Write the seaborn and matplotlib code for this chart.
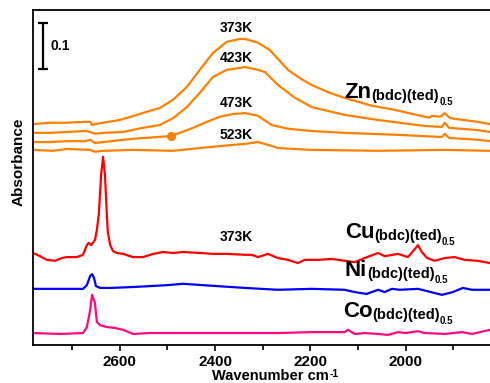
import numpy as np
import pandas as pd
import matplotlib
matplotlib.use("Agg")
import matplotlib.pyplot as plt
import seaborn as sns

# ---- spectra (wavenumber in cm^-1, stacked absorbance) ----
zn373_wn = [2782, 2746, 2711, 2673, 2662, 2658, 2652, 2635, 2600, 2564, 2543, 2516,
            2488, 2459, 2432, 2404, 2375, 2348, 2337, 2310, 2285, 2247, 2222, 2197,
            2159, 2128, 2071, 2023, 1960, 1950, 1945, 1928, 1918, 1907, 1849, 1823]
zn373_a = [0.480, 0.483, 0.483, 0.485, 0.485, 0.478, 0.480, 0.483, 0.489, 0.500, 0.507, 0.515,
           0.533, 0.561, 0.598, 0.635, 0.659, 0.665, 0.665, 0.657, 0.641, 0.598, 0.580, 0.565,
           0.548, 0.537, 0.520, 0.511, 0.496, 0.494, 0.498, 0.496, 0.504, 0.493, 0.485, 0.480]

zn423_wn = [2782, 2746, 2711, 2673, 2662, 2652, 2635, 2593, 2551, 2516, 2488, 2459,
            2432, 2404, 2375, 2348, 2337, 2310, 2295, 2268, 2232, 2197, 2128, 2058,
            1960, 1924, 1918, 1909, 1849, 1823]
zn423_a = [0.461, 0.461, 0.463, 0.465, 0.463, 0.459, 0.461, 0.463, 0.472, 0.478, 0.493, 0.517,
           0.548, 0.583, 0.598, 0.602, 0.604, 0.598, 0.593, 0.565, 0.537, 0.517, 0.500, 0.489,
           0.476, 0.474, 0.483, 0.472, 0.467, 0.463]

zn473_wn = [2782, 2746, 2711, 2673, 2662, 2652, 2635, 2572, 2495, 2474, 2446, 2417,
            2390, 2362, 2337, 2310, 2281, 2247, 2197, 2128, 2023, 1924, 1918, 1909,
            1849, 1823]
zn473_a = [0.441, 0.441, 0.443, 0.443, 0.446, 0.439, 0.441, 0.448, 0.454, 0.461, 0.472, 0.485,
           0.496, 0.502, 0.504, 0.498, 0.478, 0.470, 0.465, 0.461, 0.457, 0.452, 0.459, 0.450,
           0.446, 0.443]

zn523_wn = [2782, 2740, 2711, 2662, 2652, 2635, 2572, 2488, 2432, 2362, 2337, 2310,
            2289, 2268, 2197, 2058, 1918, 1823]
zn523_a = [0.424, 0.422, 0.426, 0.424, 0.420, 0.422, 0.424, 0.422, 0.428, 0.435, 0.437, 0.441,
           0.435, 0.428, 0.424, 0.422, 0.424, 0.422]

cu_wn = [2782, 2767, 2753, 2736, 2721, 2711, 2690, 2677, 2669, 2665, 2660, 2652,
         2648, 2644, 2639, 2635, 2631, 2627, 2625, 2620, 2614, 2606, 2593, 2572,
         2551, 2530, 2509, 2488, 2467, 2432, 2404, 2375, 2337, 2323, 2310, 2295,
         2289, 2268, 2247, 2226, 2212, 2184, 2155, 2128, 2107, 2086, 2058, 2044,
         2016, 1995, 1974, 1966, 1955, 1939, 1918, 1897, 1876, 1849, 1823]
cu_a = [0.200, 0.193, 0.185, 0.183, 0.189, 0.191, 0.191, 0.196, 0.217, 0.222, 0.217, 0.228,
        0.250, 0.283, 0.370, 0.409, 0.370, 0.283, 0.246, 0.217, 0.204, 0.200, 0.198, 0.191,
        0.191, 0.198, 0.202, 0.200, 0.202, 0.200, 0.198, 0.198, 0.196, 0.196, 0.191, 0.196,
        0.198, 0.189, 0.185, 0.178, 0.185, 0.185, 0.187, 0.183, 0.180, 0.189, 0.200, 0.193,
        0.198, 0.191, 0.217, 0.202, 0.189, 0.183, 0.189, 0.191, 0.185, 0.183, 0.178]

ni_wn = [2782, 2700, 2677, 2669, 2662, 2658, 2654, 2650, 2641, 2620, 2572, 2501,
         2467, 2396, 2337, 2268, 2197, 2128, 2107, 2082, 2058, 2044, 2029, 2012,
         1974, 1924, 1901, 1880, 1861, 1823]
ni_a = [0.122, 0.122, 0.122, 0.130, 0.150, 0.154, 0.146, 0.128, 0.124, 0.124, 0.126, 0.130,
        0.133, 0.128, 0.124, 0.120, 0.122, 0.120, 0.115, 0.111, 0.120, 0.115, 0.122, 0.120,
        0.122, 0.109, 0.115, 0.124, 0.120, 0.120]

co_wn = [2782, 2725, 2677, 2669, 2662, 2658, 2652, 2648, 2641, 2627, 2610, 2593,
         2572, 2537, 2501, 2467, 2404, 2337, 2268, 2197, 2128, 2121, 2107, 2086,
         2058, 2037, 2016, 2001, 1974, 1960, 1918, 1882, 1861, 1823]
co_a = [0.026, 0.024, 0.026, 0.039, 0.076, 0.109, 0.091, 0.050, 0.043, 0.039, 0.037, 0.033,
        0.024, 0.026, 0.026, 0.026, 0.026, 0.026, 0.026, 0.028, 0.028, 0.033, 0.024, 0.026,
        0.024, 0.022, 0.028, 0.026, 0.030, 0.026, 0.024, 0.028, 0.024, 0.033]

series_names = ["Zn 373K", "Zn 423K", "Zn 473K", "Zn 523K", "Cu", "Ni", "Co"]
series_wn = [zn373_wn, zn423_wn, zn473_wn, zn523_wn, cu_wn, ni_wn, co_wn]
series_a = [zn373_a, zn423_a, zn473_a, zn523_a, cu_a, ni_a, co_a]
series_colors = ["#ff8000", "#ff8000", "#ff8000", "#ff8000", "#ff0000", "#0000ff", "#ff0a7e"]

temp_labels = ["373K", "423K", "473K", "523K", "373K"]
temp_label_y = [0.689, 0.624, 0.526, 0.457, 0.235]
temp_label_wn = [2356, 2356, 2356, 2356, 2356]

metal_names = ["Zn", "Cu", "Ni", "Co"]
metal_label_wn = [2128, 2128, 2128, 2132]
metal_label_y = [0.537, 0.233, 0.150, 0.061]

marker_wn, marker_a = 2493, 0.454
scale_wn, scale_lo, scale_hi = 2761, 0.600, 0.700

major_ticks = [2600, 2400, 2200, 2000]
minor_ticks = [2700, 2500, 2300, 2100, 1900]

frames = []
for name, wn, a in zip(series_names, series_wn, series_a):
    frames.append(pd.DataFrame({"wn": wn, "A": a, "series": name}))
df = pd.concat(frames, ignore_index=True)

sns.set_theme(style="ticks")
plt.rcParams["font.family"] = ["Liberation Sans", "DejaVu Sans"]
plt.rcParams["font.weight"] = "bold"
plt.rcParams["text.color"] = "black"
plt.rcParams["axes.labelcolor"] = "black"
plt.rcParams["xtick.color"] = "black"
plt.rcParams["ytick.color"] = "black"
plt.rcParams["axes.edgecolor"] = "black"

fig = plt.figure(figsize=(4.9, 3.83), dpi=100)
ax = fig.add_axes([33 / 490, 1 - 345 / 383, 1 - 33 / 490, (345 - 10) / 383])

sns.lineplot(data=df, x="wn", y="A", hue="series", hue_order=series_names,
             palette=dict(zip(series_names, series_colors)), estimator=None,
             sort=True, legend=False, linewidth=1.6, ax=ax)

ax.plot([marker_wn], [marker_a], "o", color="#ff8000", ms=5.5)

# 0.1 absorbance scale bar
ax.errorbar([scale_wn], [(scale_lo + scale_hi) / 2], yerr=[(scale_hi - scale_lo) / 2],
            color="black", capsize=3.5, elinewidth=1.6, capthick=1.6, fmt="none")
ax.text(2746, 0.649, "0.1", fontsize=10, fontweight="bold", ha="left", va="center")

for lab, wn, y in zip(temp_labels, temp_label_wn, temp_label_y):
    ax.text(wn, y, lab, fontsize=10, fontweight="bold", ha="center", va="center")

for name, wn, y in zip(metal_names, metal_label_wn, metal_label_y):
    t1 = ax.text(wn, y, name, fontsize=16, fontweight="bold", ha="left", va="baseline")
    t2 = ax.annotate("(bdc)(ted)", xy=(1, 0), xycoords=t1, xytext=(0, 0),
                     textcoords="offset points", fontsize=10.5, fontweight="bold",
                     ha="left", va="bottom")
    ax.annotate("0.5", xy=(1, 0), xycoords=t2, xytext=(0, -3),
                textcoords="offset points", fontsize=7, fontweight="bold",
                ha="left", va="bottom")

ax.set_xlim(2782, 1823)
ax.set_ylim(0, 0.728)
ax.set_xticks(major_ticks)
ax.set_xticks(minor_ticks, minor=True)
ax.set_yticks([])
ax.tick_params(axis="x", which="major", direction="out", length=4.5, width=1.2,
               labelsize=11, pad=3, colors="black")
ax.tick_params(axis="x", which="minor", direction="out", length=3.5, width=1.2,
               colors="black")
for lbl in ax.get_xticklabels():
    lbl.set_fontweight("bold")
ax.set_xlabel("")
ax.set_ylabel("")
for side in ["left", "top", "bottom"]:
    ax.spines[side].set_linewidth(1.3)
    ax.spines[side].set_color("black")
ax.spines["right"].set_visible(False)

fig.text(19 / 490, 1 - 162 / 383, "Absorbance", rotation=90, fontsize=11,
         fontweight="bold", ha="center", va="center")
xl = fig.text(270 / 490, 0.007, "Wavenumber cm", fontsize=10.5, fontweight="bold",
              ha="center", va="baseline")
plt.annotate("-1", xy=(1, 1), xycoords=xl, xytext=(1, 0), textcoords="offset points",
             fontsize=7.5, fontweight="bold", ha="left", va="top",
             annotation_clip=False)

fig.savefig("out.png", dpi=100)
